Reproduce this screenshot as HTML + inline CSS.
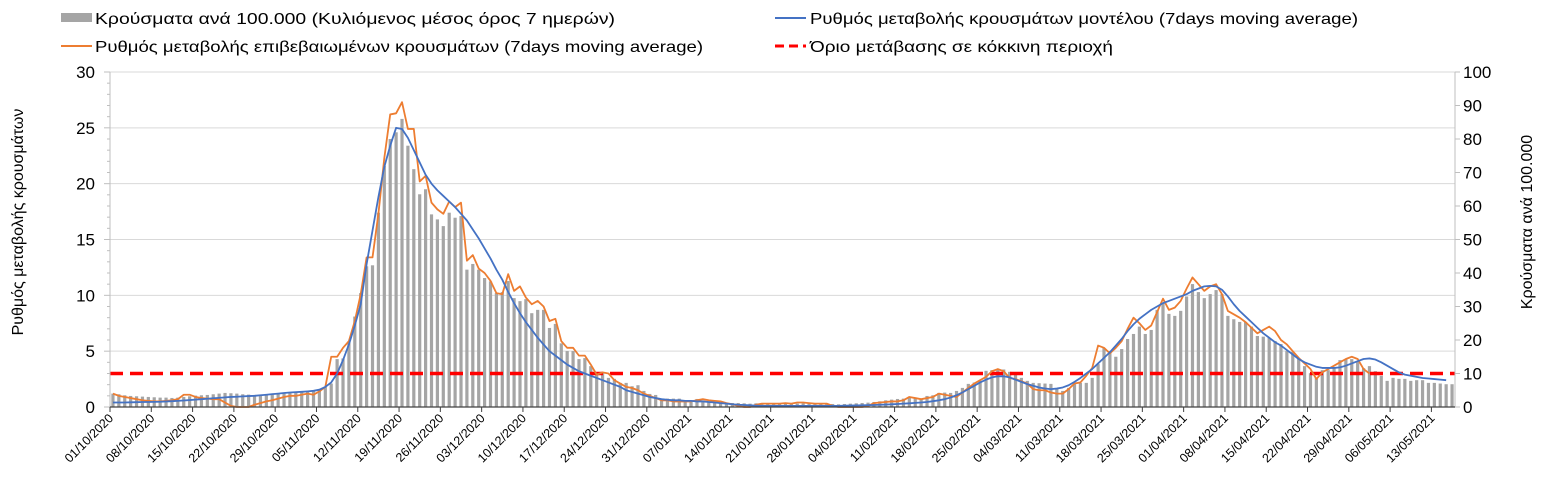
<!DOCTYPE html>
<html><head><meta charset="utf-8"><style>
html,body{margin:0;padding:0;background:#fff;}
svg{display:block;font-family:"Liberation Sans","DejaVu Sans",sans-serif;}
</style></head><body>
<svg id="chart" width="1548" height="486" viewBox="0 0 1548 486" xmlns="http://www.w3.org/2000/svg">
<g id="grid"></g>
<g id="bars"></g>
<g id="lines"></g>
<g id="axes"></g>
<g>
  <rect x="61" y="13" width="31" height="9" fill="#a5a5a5"/>
  <text x="95" y="24" font-size="16" textLength="520" lengthAdjust="spacingAndGlyphs" fill="#000">Κρούσματα ανά 100.000 (Κυλιόμενος μέσος όρος 7 ημερών)</text>
  <line x1="61" y1="46" x2="92" y2="46" stroke="#ed7d31" stroke-width="2"/>
  <text x="95" y="52" font-size="16" textLength="608" lengthAdjust="spacingAndGlyphs" fill="#000">Ρυθμός μεταβολής επιβεβαιωμένων κρουσμάτων (7days moving average)</text>
  <line x1="775" y1="18" x2="806" y2="18" stroke="#4472c4" stroke-width="2"/>
  <text x="810" y="24" font-size="16" textLength="548" lengthAdjust="spacingAndGlyphs" fill="#000">Ρυθμός μεταβολής κρουσμάτων μοντέλου (7days moving average)</text>
  <line x1="775" y1="46" x2="806" y2="46" stroke="#ff0000" stroke-width="3" stroke-dasharray="9,5"/>
  <text x="810" y="52" font-size="16" textLength="303" lengthAdjust="spacingAndGlyphs" fill="#000">Όριο μετάβασης σε κόκκινη περιοχή</text>
</g>
<text transform="translate(23,222) rotate(-90)" text-anchor="middle" font-size="16" fill="#000">Ρυθμός μεταβολής κρουσμάτων</text>
<text transform="translate(1532,222) rotate(-90)" text-anchor="middle" font-size="16" fill="#000">Κρούσματα ανά 100.000</text>
</svg>
<script>
const startDate = [2020, 10, 1];
const threshold = 3;
const leftTicks = [0,5,10,15,20,25,30];
const rightTicks = [0,10,20,30,40,50,60,70,80,90,100];
const cases = [
4.0,3.8,3.5,3.3,3.2,3.1,3.0, 2.9,2.8,2.8,2.7,2.8,3.0,3.2, 3.4,3.5,3.6,3.8,4.0,4.2,4.1,
4.0,3.8,3.7,3.6,3.6,3.7,3.8, 3.9,4.0,4.2,4.4,4.6,4.8,5.0, 5.3,6.0,7.0,
14.3,14.5,19.5,27,34,42,42.3,58,72,80,82,86,
78,71,63.5,65,57.5,56,54,58,56.5,57,41,
42.7,41,38.5,37.5,34,34.3,37.6,32.5,31.6,32.2,28,29,29,
23.6,24.8,19,16.7,16.7,14.3,14.6,12.2,9.8,10,8.7,8.4,7.2,
7.2,6.2,6.5,4.8,3.9,3.6,2.5,2.5,2.5,2.5,1.8,2.0,2.4,
1.5,1.4,1.3,1.3,1.3,1.2,1.2,1.1,
1.0,1.1,1.0,1.1,1.0,1.2,1.1,1.0,1.0,1.1,1.0,0.9,0.9,1.0,0.9,0.8,0.9,1.0,1.1,1.2,1.3,
1.5,1.7,2.0,2.2,2.4,2.5,2.7,2.6,2.5,3.3,3.5,4.2,4.3,4.2,4.8,5.7,6.9,7.3,7.8,10.8,11.0,
11.3,11.2,10.5,9.8,8.7,7.8,7.2,7.1,7.0,6.9,5.5,4.8,5.7,7.2,7.2,7.2,8.7,
12.8,17.6,16.7,15,17.3,20.3,21.8,24,21.8,23,29,31,27.8,27.2,28.7,33,36.7,34.3,32.5,33.7,34.9,33.7,
27.2,26.2,25.4,25.4,24,21.2,21,20.6,19.7,18.8,16.7,16.5,14.3,12.2,10.1,8.7,11,11,11.6,14,14.3,14.3,13.7,11.6,12.2,10.7,9.3,7.8,8.7,8.4,8.4,7.8,8,8,7.2,7.2,7,6.8,6.8
];
const confirmedRate = [
1.2,1.0,0.9,0.8,0.7,0.6,0.55,0.5,0.5,0.55,0.6,0.7,1.1,1.1,0.9,0.8,0.75,0.7,0.7,0.4,0.1,0,0,0,0.2,0.35,0.5,0.6,0.75,0.9,1.0,1.0,1.1,1.2,1.1,1.4,1.8,
4.5,4.5,5.3,5.9,7.7,10.1,13.4,13.4,17.3,22.3,26.2,26.3,27.3,
24.9,24.9,20.2,20.7,18.3,17.7,17.3,18.4,17.9,18.3,13.1,13.6,12.4,12,11.3,10.2,10.1,11.9,10.4,10.8,9.8,9.2,9.5,9.0,7.7,7.9,5.9,5.3,5.3,4.6,4.6,3.8,2.9,3.1,3.0,2.4,2.1,1.8,
1.7,1.5,1.2,1.0,0.8,0.6,0.6,0.5,0.5,0.5,0.5,0.6,0.7,0.6,0.55,0.5,0.35,0.25,0.1,0,0,0.2,0.3,0.3,0.3,0.3,0.35,0.3,0.4,0.4,0.35,0.3,0.3,0.3,0.1,0,0,0,0,0,0.1,
0.35,0.4,0.45,0.5,0.5,0.6,0.9,0.8,0.7,0.8,0.9,1.2,1.1,1.0,0.9,1.3,
1.7,2.1,2.4,2.7,3.2,3.4,3.2,2.6,2.5,2.3,2.1,1.6,1.5,1.5,1.3,1.2,1.2,1.6,2.1,2.2,2.8,3.5,
5.5,5.3,4.8,5.3,5.9,7.0,8.0,7.5,6.9,7.3,8.5,9.7,8.7,8.9,9.5,10.6,11.6,11.0,10.4,10.8,11.0,10.1,8.6,8.3,8.0,7.6,7.1,6.6,6.9,7.2,6.8,6.0,5.6,5.0,4.4,3.9,3.4,2.5,3.1,3.4,3.7,4.0,4.3,4.5,4.3,3.4,3.0
];
const modelRate = [
0.4,0.4,0.4,0.42,0.43,0.45,0.45,0.46,0.47,0.5,0.52,0.55,0.58,0.62,0.66,0.7,0.74,0.78,0.82,0.86,0.9,0.92,0.95,0.98,1.0,1.05,1.1,1.15,1.2,1.25,1.3,1.33,1.36,1.4,1.45,1.55,1.8,2.2,
3.0,4.2,5.6,7.3,9.2,12.8,15.8,18.8,21.5,23.4,25.0,24.9,
24.1,23.0,21.9,20.8,20.0,19.4,18.9,18.4,17.9,17.3,16.7,15.9,15.1,14.2,13.3,12.3,11.4,10.3,9.3,8.4,7.6,6.9,6.2,5.6,5.0,4.6,4.2,3.8,3.5,3.2,3.0,2.8,2.6,2.4,2.2,2.0,1.8,1.5,
1.35,1.2,1.05,0.9,0.8,0.7,0.65,0.6,0.6,0.55,0.55,0.5,0.5,0.45,0.4,0.35,0.3,0.25,0.2,0.18,0.15,0.12,0.1,0.1,0.1,0.1,0.1,0.1,0.1,0.1,0.1,0.1,0.1,0.1,0.1,0.1,0.12,0.13,0.14,0.15,0.17,
0.18,0.2,0.22,0.24,0.27,0.3,0.33,0.37,0.4,0.45,0.52,0.6,0.7,0.85,1.05,1.3,1.6,1.9,2.2,2.45,2.65,2.75,2.75,2.65,2.45,2.25,2.05,1.9,1.75,1.65,1.6,1.65,1.75,1.95,2.25,2.6,3.0,3.4,
3.9,4.4,4.9,5.5,6.1,6.8,7.4,7.9,8.3,8.7,9.0,9.3,9.5,9.7,9.9,10.1,10.4,10.6,10.8,10.85,10.8,10.5,9.9,9.2,8.6,8.1,7.6,7.1,6.6,6.2,5.8,5.5,5.1,4.7,4.3,4.0,3.8,3.6,3.5,3.5,3.5,3.55,3.7,3.9,4.1,4.3,4.35,4.25,4.0,3.7,3.4,3.1,2.9,2.8,2.7,2.6,2.55,2.5,2.45,2.4
];

const NS = "http://www.w3.org/2000/svg";
const X0 = 110, X1 = 1455, Y0 = 407, Y1 = 72;
const N = cases.length;
const bw = (X1 - X0) / N;
const xBand = i => X0 + i * bw;
const xMid = i => X0 + (i + 0.5) * bw;
const yL = v => Y0 - (v / 30) * (Y0 - Y1);
const yR = v => Y0 - (v / 100) * (Y0 - Y1);
function mk(tag, attrs, parent) {
  const e = document.createElementNS(NS, tag);
  for (const k in attrs) e.setAttribute(k, attrs[k]);
  parent.appendChild(e);
  return e;
}
const grid = document.getElementById('grid');
const bars = document.getElementById('bars');
const lines = document.getElementById('lines');
const axes = document.getElementById('axes');

leftTicks.forEach(t => {
  if (t > 0) {
    const g = mk('line', {x1: X0, x2: X1, y1: yL(t), y2: yL(t), stroke: '#d9d9d9', 'stroke-width': 1}, grid);
    
    
  }
  const tx = mk('text', {x: 95, y: yL(t) + 6, 'text-anchor': 'end', 'font-size': 17, fill: '#000'}, axes);
  
  
  tx.textContent = t;
});
for (let v = 0; v <= 30; v++) {
  const len = v % 5 === 0 ? 6 : 3;
  mk('line', {x1: X0 - len, x2: X0, y1: yL(v), y2: yL(v), stroke: '#bfbfbf'}, axes);
}
rightTicks.forEach(t => {
  mk('line', {x1: X1, x2: X1 + 5, y1: yR(t), y2: yR(t), stroke: '#bfbfbf'}, axes);
  const tx = mk('text', {x: 1463, y: yR(t) + 6, 'font-size': 17, fill: '#000'}, axes);
  
  
  tx.textContent = t;
});

cases.forEach((v, i) => {
  const r = mk('rect', {x: xMid(i) - 1.6, y: yR(v), width: 3.2, height: Y0 - yR(v), fill: '#a5a5a5'}, bars);
  
  
});

const th = mk('line', {x1: X0, x2: X1, y1: yL(threshold), y2: yL(threshold), stroke: '#ff0000', 'stroke-width': 3.5, 'stroke-dasharray': '13,7'}, lines);



function path(arr, color, name) {
  const d = arr.map((v, i) => (i ? 'L' : 'M') + xMid(i).toFixed(2) + ',' + yL(v).toFixed(2)).join('');
  const p = mk('path', {d: d, fill: 'none', stroke: color, 'stroke-width': 1.8, 'stroke-linejoin': 'round'}, lines);
  
  
}
path(confirmedRate, '#ed7d31', 'confirmed-rate-line');
path(modelRate, '#4472c4', 'model-rate-line');

mk('line', {x1: X0, x2: X0, y1: Y1, y2: Y0, stroke: '#bfbfbf'}, axes);
mk('line', {x1: X1, x2: X1, y1: Y1, y2: Y0, stroke: '#bfbfbf'}, axes);
mk('line', {x1: X0, x2: X1, y1: Y0, y2: Y0, stroke: '#404040', 'stroke-width': 1.2}, axes);

const d0 = new Date(startDate[0], startDate[1] - 1, startDate[2], 12);
for (let i = 0; i < N; i += 7) {
  const x = xBand(i);
  mk('line', {x1: x, x2: x, y1: Y0, y2: Y0 + 5, stroke: '#404040'}, axes);
  const d = new Date(d0.getTime() + i * 86400000);
  const s = String(d.getDate()).padStart(2, '0') + '/' + String(d.getMonth() + 1).padStart(2, '0') + '/' + d.getFullYear();
  const tx = mk('text', {x: x + 4, y: Y0 + 12, 'text-anchor': 'end', 'font-size': 12.5, fill: '#000', transform: 'rotate(-45 ' + (x + 4) + ' ' + (Y0 + 12) + ')'}, axes);
  
  
  tx.textContent = s;
}
</script>
</body></html>
